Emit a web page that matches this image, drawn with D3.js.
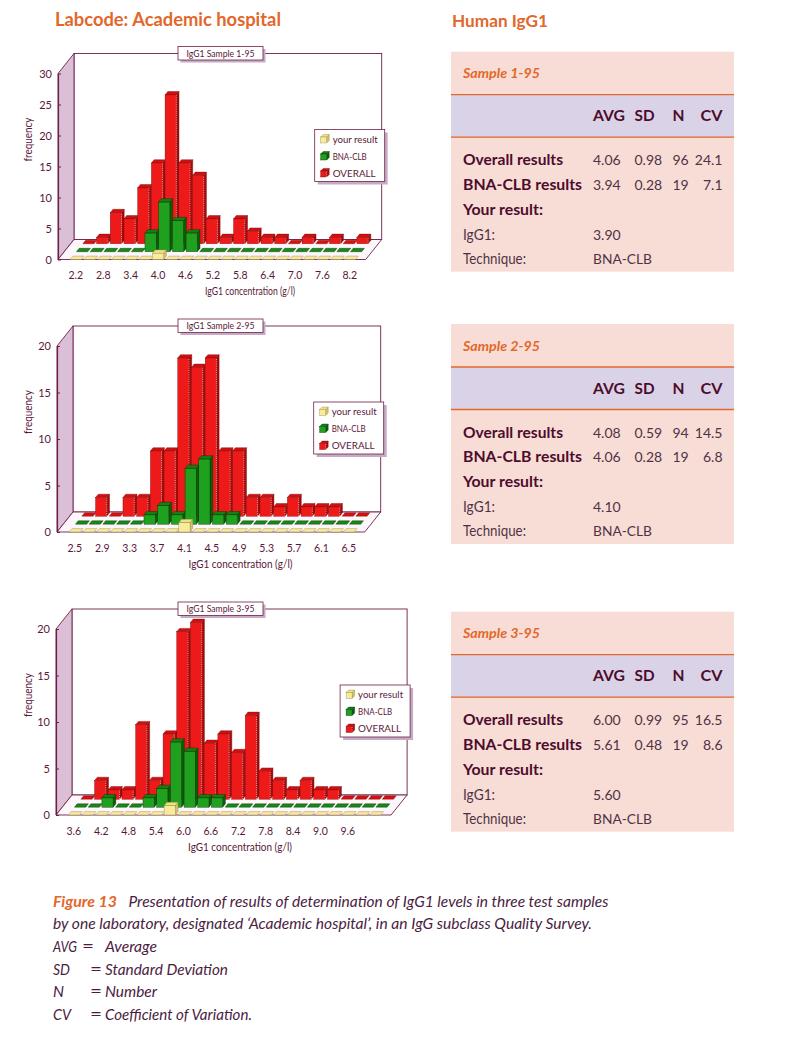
<!DOCTYPE html>
<html><head><meta charset="utf-8">
<script src="https://cdn.jsdelivr.net/npm/d3@7/dist/d3.min.js"></script>
<style>
body{margin:0;background:#fff;}
svg{display:block;font-family:Lato,"Open Sans",sans-serif;}
</style></head><body>
<svg id="c" width="785" height="1060"></svg>
<script>
// ---------------- DATA ----------------
const chartTitles = ["IgG1 Sample 1-95", "IgG1 Sample 2-95", "IgG1 Sample 3-95"];
const legendLabels = ["your result", "BNA-CLB", "OVERALL"];
const xAxisTitle = "IgG1 concentration (g/l)";
const yAxisTitle = "frequency";

const bins1 = ["2.2","2.5","2.8","3.1","3.4","3.7","4.0","4.3","4.6","4.9","5.2","5.5","5.8","6.1","6.4","6.7","7.0","7.3","7.6","7.9","8.2"];
const ticks1 = ["2.2","2.8","3.4","4.0","4.6","5.2","5.8","6.4","7.0","7.6","8.2"];
const overall1 = [0,1,5,4,9,13,24,13,11,4,1,4,2,1,1,0,1,0,1,0,1];
const bna1     = [0,0,0,0,0,3,8,5,3,0,0,0,0,0,0,0,0,0,0,0,0];
const your1    = [0,0,0,0,0,0,1,0,0,0,0,0,0,0,0,0,0,0,0,0,0];
const yTicks1  = [0,5,10,15,20,25,30];

const bins2 = ["2.5","2.7","2.9","3.1","3.3","3.5","3.7","3.9","4.1","4.3","4.5","4.7","4.9","5.1","5.3","5.5","5.7","5.9","6.1","6.3","6.5"];
const ticks2 = ["2.5","2.9","3.3","3.7","4.1","4.5","4.9","5.3","5.7","6.1","6.5"];
const overall2 = [0,2,0,2,2,7,7,17,16,17,7,7,2,2,1,2,1,1,1,0,0];
const bna2     = [0,0,0,0,0,1,2,1,6,7,1,1,0,0,0,0,0,0,0,0,0];
const your2    = [0,0,0,0,0,0,0,0,1,0,0,0,0,0,0,0,0,0,0,0,0];
const yTicks2  = [0,5,10,15,20];

const bins3 = ["3.6","3.9","4.2","4.5","4.8","5.1","5.4","5.7","6.0","6.3","6.6","6.9","7.2","7.5","7.8","8.1","8.4","8.7","9.0","9.3","9.6","9.9","10.2"];
const ticks3 = ["3.6","4.2","4.8","5.4","6.0","6.6","7.2","7.8","8.4","9.0","9.6"];
const overall3 = [0,2,1,1,8,2,7,18,19,6,7,5,9,3,2,1,2,1,1,0,0,0,0];
const bna3     = [0,0,1,0,0,1,2,7,6,1,1,0,0,0,0,0,0,0,0,0,0,0,0];
const your3    = [0,0,0,0,0,0,0,1,0,0,0,0,0,0,0,0,0,0,0,0,0,0,0];
const yTicks3  = [0,5,10,15,20];

const tableSamples = ["Sample 1-95", "Sample 2-95", "Sample 3-95"];
const colHeaders = ["AVG", "SD", "N", "CV"];
const overallStats = [["4.06","0.98","96","24.1"], ["4.08","0.59","94","14.5"], ["6.00","0.99","95","16.5"]];
const bnaStats     = [["3.94","0.28","19","7.1"],  ["4.06","0.28","19","6.8"],  ["5.61","0.48","19","8.6"]];
const yourResults  = ["3.90", "4.10", "5.60"];
const techniques   = ["BNA-CLB", "BNA-CLB", "BNA-CLB"];
const rowLabels = ["Overall results", "BNA-CLB results", "Your result:", "IgG1:", "Technique:"];

const leftHeading = "Labcode: Academic hospital";
const rightHeading = "Human IgG1";
const captionLabel = "Figure 13";
const captionLine1 = "Presentation of results of determination of IgG1 levels in three test samples";
const captionLine2 = "by one laboratory, designated \u2018Academic hospital\u2019, in an IgG subclass Quality Survey.";
const abbrevs = [["AVG","Average"],["SD","Standard Deviation"],["N","Number"],["CV","Coefficient of Variation."]];

// ---------------- STYLE / LAYOUT ----------------
const MAROON = "#6d1f47", TXT = "#5a1838", ORANGE = "#e2672a", DARK = "#4d0c2c", GREYTXT = "#4f3345";
const PINK = "#f8ddd6", LAV = "#dad3e7";
const COLORS = {
  red:    {front:"#ee1a1a", top:"#d01010", side:"#a80a0a", flat:"#d81010", stroke:"#7a0808", edge:"#ffd6d6"},
  green:  {front:"#1fa01f", top:"#138013", side:"#0b5e0b", flat:"#168a16", stroke:"#043004", edge:null},
  yellow: {front:"#f7ec9c", top:"#efe08a", side:"#d3c070", flat:"#f3e7a2", stroke:"#9a8540", edge:null}
};
const FONT = "Lato, 'Open Sans', sans-serif";

const svg = d3.select("#c");
const pts = a => a.map(p => p[0].toFixed(2) + "," + p[1].toFixed(2)).join(" ");
function fitWidth(sel, w) {
  const cur = sel.node().getComputedTextLength();
  const fs = parseFloat(sel.attr("font-size"));
  if (cur > 0) sel.attr("font-size", (fs * w / cur).toFixed(2));
  return sel;
}
function squeeze(sel, w) {
  return sel.attr("textLength", w).attr("lengthAdjust", "spacingAndGlyphs");
}

function box3d(g, bx, by, w, h, tdx, tdy, col) {
  if (h <= 0.01) {
    g.append("polygon").attr("points", pts([[bx,by],[bx+w,by],[bx+w+tdx,by+tdy],[bx+tdx,by+tdy]]))
      .attr("fill", col.flat).attr("stroke", col.stroke).attr("stroke-width", 0.4);
    return;
  }
  g.append("polygon").attr("points", pts([[bx+w,by],[bx+w,by-h],[bx+w+tdx,by-h+tdy],[bx+w+tdx,by+tdy]]))
    .attr("fill", col.side).attr("stroke", col.stroke).attr("stroke-width", 0.4);
  g.append("polygon").attr("points", pts([[bx,by-h],[bx+w,by-h],[bx+w+tdx,by-h+tdy],[bx+tdx,by-h+tdy]]))
    .attr("fill", col.top).attr("stroke", col.stroke).attr("stroke-width", 0.4);
  g.append("rect").attr("x", bx).attr("y", by-h).attr("width", w).attr("height", h)
    .attr("fill", col.front).attr("stroke", col.stroke).attr("stroke-width", 0.4);
  if (col.edge) {
    g.append("line").attr("x1", bx+w).attr("x2", bx+w).attr("y1", by).attr("y2", by-h)
      .attr("stroke", col.edge).attr("stroke-width", 0.7).attr("stroke-dasharray", "1,1.2");
  }
}

const charts = [
  {title: chartTitles[0], bins: bins1, ticks: ticks1, overall: overall1, bna: bna1, your: your1, yMax: 30, yTicks: yTicks1, fx: 58, y0: 259.5, atx: 250, atw: 90},
  {title: chartTitles[1], bins: bins2, ticks: ticks2, overall: overall2, bna: bna2, your: your2, yMax: 20, yTicks: yTicks2, fx: 57, y0: 532, atx: 240.5, atw: 104},
  {title: chartTitles[2], bins: bins3, ticks: ticks3, overall: overall3, bna: bna3, your: your3, yMax: 20, yTicks: yTicks3, fx: 56, y0: 815, atx: 240, atw: 104}
];

function drawChart(c) {
  const g = svg.append("g");
  const DX = 16, DY = -20, H = 186, STEP = 13.7;
  const n = c.bins.length;
  const W = n * STEP + 20;
  const fx = c.fx, y0 = c.y0;
  const x = d3.scaleBand().domain(c.bins).range([fx + 11, fx + 11 + n * STEP]).paddingInner(0.18).paddingOuter(0.09);
  const hScale = d3.scaleLinear().domain([0, c.yMax]).range([0, H]);
  const yPos = d3.scaleLinear().domain([0, c.yMax]).range([y0, y0 - H]);

  // back wall
  g.append("rect").attr("x", fx + DX).attr("y", y0 + DY - H).attr("width", W).attr("height", H)
    .attr("fill", "#fff").attr("stroke", MAROON).attr("stroke-width", 0.9);
  // side wall
  g.append("polygon").attr("points", pts([[fx,y0],[fx,y0-H],[fx+DX,y0-H+DY],[fx+DX,y0+DY]]))
    .attr("fill", "#dbbfd7").attr("stroke", MAROON).attr("stroke-width", 0.9);
  // floor
  g.append("polygon").attr("points", pts([[fx,y0],[fx+W,y0],[fx+W+DX,y0+DY],[fx+DX,y0+DY]]))
    .attr("fill", "#fdf7fb").attr("stroke", MAROON).attr("stroke-width", 0.9);

  // y axis
  const ya = g.append("g").attr("transform", `translate(${fx},0)`)
    .call(d3.axisLeft(yPos).tickValues(c.yTicks).tickSizeInner(-3).tickSizeOuter(0).tickPadding(6));
  ya.select(".domain").attr("stroke", MAROON).attr("stroke-width", 1.2);
  ya.selectAll(".tick line").attr("stroke", MAROON).attr("stroke-width", 1);
  ya.selectAll("text").attr("fill", TXT).attr("font-size", 11).attr("font-family", FONT);

  // x axis labels
  const xa = g.append("g").attr("transform", `translate(0,${y0 + 16})`)
    .call(d3.axisBottom(x).tickValues(c.ticks).tickSize(0).tickPadding(0));
  xa.select(".domain").remove();
  xa.selectAll("text").attr("dy", "0.35em").attr("fill", TXT).attr("font-size", 10.5).attr("font-family", FONT);

  // axis titles
  squeeze(g.append("text").attr("x", c.atx).attr("y", y0 + 35.5).attr("text-anchor", "middle")
    .attr("fill", TXT).attr("font-size", 11).attr("font-family", FONT).text(xAxisTitle), c.atw);
  squeeze(g.append("text").attr("transform", `translate(31.5,${y0 - 120}) rotate(-90)`).attr("text-anchor", "middle")
    .attr("fill", TXT).attr("font-size", 11.5).attr("font-family", FONT).text(yAxisTitle), 44);

  // bars
  const T = 0.17, tdx = T * DX, tdy = T * DY;
  const rows = [
    {vals: c.overall, f: 0.79, col: COLORS.red},
    {vals: c.bna, f: 0.39, col: COLORS.green},
    {vals: c.your, f: 0.0, col: COLORS.yellow}
  ];
  rows.forEach(r => {
    const rg = g.append("g");
    rg.selectAll("g.bar").data(c.bins.map((b, i) => ({b, v: r.vals[i]}))).join("g").attr("class", "bar")
      .each(function(d) {
        const bx = x(d.b) + r.f * DX, by = y0 + r.f * DY;
        box3d(d3.select(this), bx, by, x.bandwidth(), hScale(d.v), tdx, tdy, r.col);
      });
  });

  // title box
  const topY = y0 + DY - H;
  g.append("rect").attr("x", 180.5).attr("y", topY - 4.5).attr("width", 85).attr("height", 13.5).attr("fill", "#c6abc4");
  g.append("rect").attr("x", 178).attr("y", topY - 7).attr("width", 85).attr("height", 13.5)
    .attr("fill", "#fff").attr("stroke", MAROON).attr("stroke-width", 0.8);
  squeeze(g.append("text").attr("x", 220.5).attr("y", topY + 3.3).attr("text-anchor", "middle")
    .attr("fill", TXT).attr("font-size", 9.5).attr("font-family", FONT).text(c.title), 68);

  // legend
  const lx = fx + DX + W + 3 - 70, ly = y0 - 130;
  g.append("rect").attr("x", lx + 3).attr("y", ly + 3).attr("width", 70).attr("height", 52).attr("fill", "#c6abc4");
  g.append("rect").attr("x", lx).attr("y", ly).attr("width", 70).attr("height", 52)
    .attr("fill", "#fff").attr("stroke", MAROON).attr("stroke-width", 0.8);
  const lcols = [COLORS.yellow, COLORS.green, COLORS.red];
  const lw = [45, 34, 43];
  legendLabels.forEach((lab, i) => {
    const cy = ly + 10 + i * 17;
    box3d(g, lx + 6, cy + 3.5, 6, 6, 2.5, -2.5, lcols[i]);
    squeeze(g.append("text").attr("x", lx + 18).attr("y", cy + 3.3).attr("fill", TXT)
      .attr("font-size", 9.5).attr("font-family", FONT).text(lab), lw[i]);
  });
}
charts.forEach(drawChart);

// ---------------- TABLES ----------------
const tableTops = [51.7, 324, 611.7];
const labelW = [100, 119, 80, 32, 63];
const headW = [32, 20, 12, 22];
tableTops.forEach((T, k) => {
  const g = svg.append("g");
  g.append("rect").attr("x", 451).attr("y", T).attr("width", 283).attr("height", 220).attr("fill", PINK);
  g.append("rect").attr("x", 451).attr("y", T + 43).attr("width", 283).attr("height", 42.5).attr("fill", LAV);
  [T + 43, T + 85.5].forEach(yy => g.append("line").attr("x1", 451).attr("x2", 734).attr("y1", yy).attr("y2", yy)
    .attr("stroke", ORANGE).attr("stroke-width", 1.3));
  const st = g.append("text").attr("x", 463).attr("y", T + 26.5).attr("fill", ORANGE).attr("font-weight", "bold")
    .attr("font-style", "italic").attr("font-size", 14).attr("font-family", FONT).text(tableSamples[k]);
  squeeze(st, 77);
  const colX = [593, 634.5, 672.5, 722.5];
  const anchors = ["start", "start", "start", "end"];
  colHeaders.forEach((h, j) => squeeze(g.append("text").attr("x", colX[j]).attr("y", T + 69.5).attr("text-anchor", anchors[j])
    .attr("fill", DARK).attr("font-weight", "bold").attr("font-size", 14.5).attr("font-family", FONT).text(h), headW[j]));
  const rowY = [T + 113.5, T + 138, T + 162.8, T + 188, T + 212.3];
  rowLabels.forEach((lab, r) => {
    const bold = r < 3;
    squeeze(g.append("text").attr("x", 463).attr("y", rowY[r]).attr("fill", bold ? DARK : GREYTXT)
      .attr("font-weight", bold ? "bold" : "normal").attr("font-size", 14.5).attr("font-family", FONT).text(lab), labelW[r]);
  });
  [overallStats[k], bnaStats[k]].forEach((vals, r) => {
    vals.forEach((v, j) => g.append("text").attr("x", colX[j]).attr("y", rowY[r]).attr("text-anchor", anchors[j])
      .attr("fill", GREYTXT).attr("font-size", 14).attr("font-family", FONT).text(v));
  });
  g.append("text").attr("x", 593).attr("y", rowY[3]).attr("fill", GREYTXT).attr("font-size", 14).attr("font-family", FONT).text(yourResults[k]);
  squeeze(g.append("text").attr("x", 593).attr("y", rowY[4]).attr("fill", GREYTXT).attr("font-size", 14).attr("font-family", FONT).text(techniques[k]), 59);
});

// ---------------- HEADINGS ----------------
fitWidth(svg.append("text").attr("x", 55).attr("y", 25.5).attr("fill", ORANGE).attr("font-weight", "bold")
  .attr("font-size", 16).attr("font-family", FONT).text(leftHeading), 226);
fitWidth(svg.append("text").attr("x", 452).attr("y", 27).attr("fill", ORANGE).attr("font-weight", "bold")
  .attr("font-size", 16).attr("font-family", FONT).text(rightHeading), 96);

// ---------------- CAPTION ----------------
const CAP = "#4a1d3f";
squeeze(svg.append("text").attr("x", 53).attr("y", 906.7).attr("fill", ORANGE).attr("font-weight", "bold")
  .attr("font-style", "italic").attr("font-size", 14.5).attr("font-family", FONT).text(captionLabel), 64);
squeeze(svg.append("text").attr("x", 128.5).attr("y", 906.7).attr("fill", CAP)
  .attr("font-style", "italic").attr("font-size", 14.5).attr("font-family", FONT).text(captionLine1), 480);
squeeze(svg.append("text").attr("x", 53).attr("y", 929.2).attr("fill", CAP)
  .attr("font-style", "italic").attr("font-size", 14.5).attr("font-family", FONT).text(captionLine2), 539);
const abY = [951.7, 974.5, 997.3, 1020];
const abW = [24, 17, 11, 18];
const eqX = [82, 90, 90, 90];
const defW = [52, 123, 52, 147];
abbrevs.forEach((a, i) => {
  squeeze(svg.append("text").attr("x", 53).attr("y", abY[i]).attr("fill", CAP).attr("font-style", "italic")
    .attr("font-size", 14.5).attr("font-family", FONT).text(a[0]), abW[i]);
  squeeze(svg.append("text").attr("x", eqX[i]).attr("y", abY[i]).attr("fill", CAP)
    .attr("font-size", 14.5).attr("font-family", FONT).text("="), 12);
  squeeze(svg.append("text").attr("x", 105).attr("y", abY[i]).attr("fill", CAP).attr("font-style", "italic")
    .attr("font-size", 14.5).attr("font-family", FONT).text(a[1]), defW[i]);
});
</script>
</body></html>
